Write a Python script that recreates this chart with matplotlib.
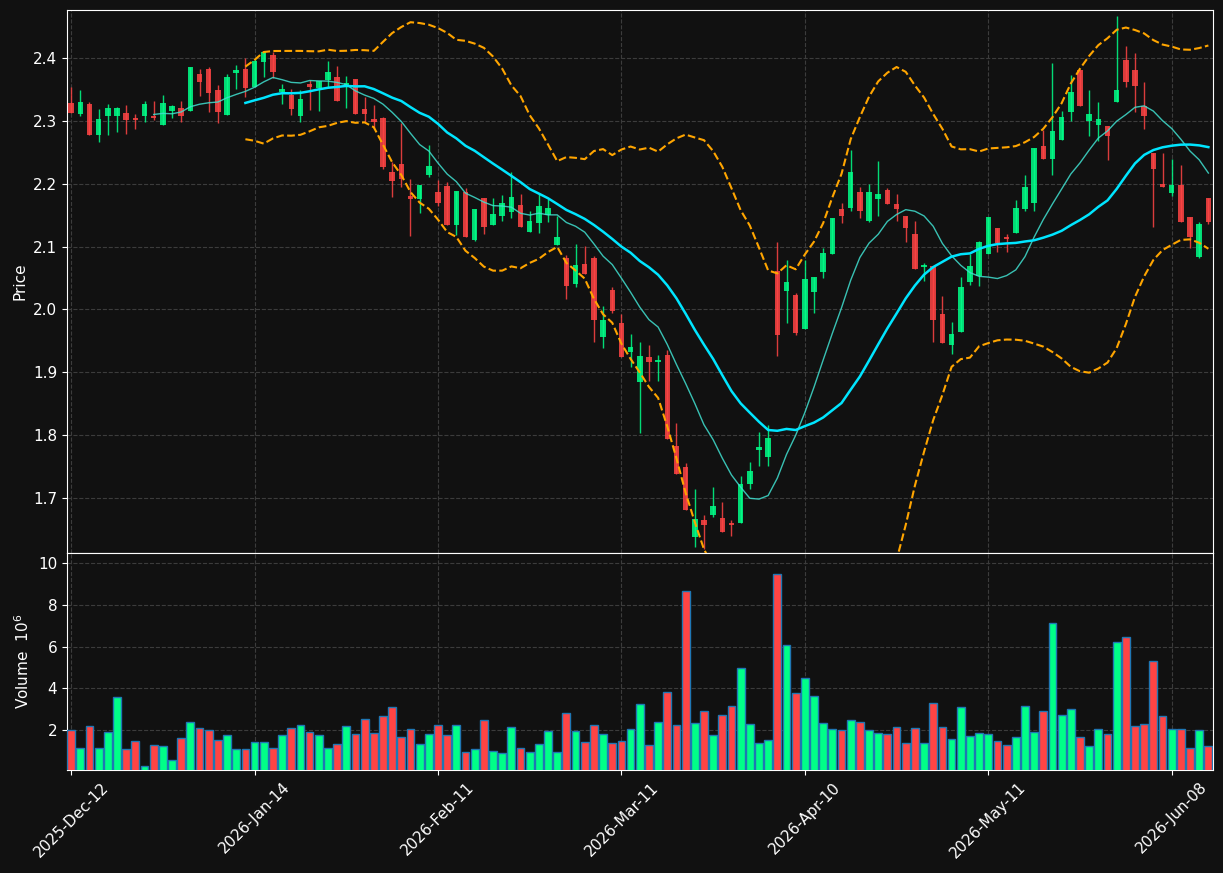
import numpy as np
import pandas as pd
import matplotlib
matplotlib.use('Agg')
import matplotlib.pyplot as plt

# ---- daily bars ----
OPEN = [2.329, 2.310, 2.326, 2.277, 2.307, 2.307, 2.313, 2.305, 2.307, 2.308,
        2.294, 2.316, 2.321, 2.316, 2.375, 2.383, 2.349, 2.309, 2.376, 2.383,
        2.353, 2.394, 2.405, 2.346, 2.341, 2.308, 2.358, 2.352, 2.365, 2.370,
        2.356, 2.367, 2.318, 2.303, 2.305, 2.219, 2.232, 2.180, 2.175, 2.214,
        2.186, 2.197, 2.135, 2.187, 2.111, 2.178, 2.135, 2.149, 2.155, 2.166,
        2.123, 2.137, 2.150, 2.103, 2.082, 2.041, 2.073, 2.082, 1.956, 2.031,
        1.979, 1.932, 1.885, 1.924, 1.916, 1.928, 1.783, 1.749, 1.639, 1.665,
        1.674, 1.669, 1.660, 1.660, 1.723, 1.776, 1.766, 2.061, 2.030, 2.023,
        1.969, 2.028, 2.060, 2.089, 2.160, 2.161, 2.187, 2.140, 2.175, 2.190,
        2.168, 2.149, 2.120, 2.068, 2.069, 1.993, 1.944, 1.965, 2.043, 2.053,
        2.089, 2.130, 2.115, 2.121, 2.159, 2.169, 2.260, 2.239, 2.270, 2.314,
        2.380, 2.299, 2.294, 2.292, 2.330, 2.397, 2.381, 2.323, 2.249, 2.200,
        2.185, 2.198, 2.147, 2.084, 2.178]
HIGH = [2.353, 2.349, 2.330, 2.318, 2.327, 2.322, 2.325, 2.310, 2.332, 2.332,
        2.341, 2.325, 2.332, 2.386, 2.383, 2.385, 2.357, 2.374, 2.388, 2.399,
        2.399, 2.410, 2.409, 2.359, 2.350, 2.349, 2.364, 2.363, 2.395, 2.387,
        2.371, 2.367, 2.338, 2.325, 2.306, 2.234, 2.297, 2.208, 2.198, 2.261,
        2.206, 2.202, 2.189, 2.193, 2.160, 2.178, 2.178, 2.182, 2.218, 2.184,
        2.156, 2.183, 2.176, 2.149, 2.087, 2.104, 2.101, 2.085, 2.006, 2.035,
        1.993, 1.961, 1.948, 1.943, 1.927, 1.935, 1.820, 1.756, 1.714, 1.674,
        1.718, 1.694, 1.665, 1.736, 1.757, 1.805, 1.817, 2.107, 2.078, 2.027,
        2.079, 2.052, 2.098, 2.146, 2.170, 2.253, 2.194, 2.199, 2.236, 2.193,
        2.184, 2.149, 2.140, 2.074, 2.069, 2.022, 1.980, 2.051, 2.089, 2.109,
        2.147, 2.130, 2.120, 2.174, 2.214, 2.257, 2.285, 2.392, 2.316, 2.372,
        2.380, 2.349, 2.330, 2.292, 2.467, 2.419, 2.408, 2.361, 2.249, 2.249,
        2.239, 2.230, 2.147, 2.139, 2.178]
LOW = [2.312, 2.308, 2.278, 2.266, 2.278, 2.282, 2.279, 2.287, 2.298, 2.302,
       2.294, 2.305, 2.298, 2.316, 2.339, 2.314, 2.297, 2.309, 2.351, 2.338,
       2.353, 2.369, 2.368, 2.327, 2.309, 2.298, 2.317, 2.315, 2.354, 2.331,
       2.320, 2.310, 2.298, 2.288, 2.224, 2.179, 2.194, 2.117, 2.153, 2.210,
       2.164, 2.135, 2.118, 2.115, 2.109, 2.120, 2.135, 2.140, 2.145, 2.131,
       2.123, 2.122, 2.139, 2.103, 2.016, 2.035, 2.057, 1.948, 1.939, 1.994,
       1.925, 1.909, 1.803, 1.886, 1.886, 1.794, 1.739, 1.682, 1.623, 1.620,
       1.670, 1.647, 1.640, 1.660, 1.715, 1.752, 1.752, 1.926, 1.978, 1.960,
       1.969, 1.994, 2.050, 2.089, 2.137, 2.157, 2.145, 2.139, 2.148, 2.167,
       2.140, 2.107, 2.065, 2.045, 1.948, 1.946, 1.929, 1.965, 2.039, 2.038,
       2.089, 2.091, 2.092, 2.121, 2.156, 2.157, 2.240, 2.214, 2.269, 2.299,
       2.323, 2.275, 2.268, 2.237, 2.330, 2.354, 2.314, 2.287, 2.131, 2.194,
       2.180, 2.139, 2.098, 2.082, 2.136]
CLOSE = [2.312, 2.330, 2.278, 2.303, 2.321, 2.321, 2.302, 2.302, 2.327, 2.304,
         2.329, 2.324, 2.307, 2.386, 2.361, 2.344, 2.314, 2.370, 2.380, 2.352,
         2.395, 2.409, 2.377, 2.351, 2.318, 2.335, 2.353, 2.363, 2.377, 2.331,
         2.360, 2.310, 2.310, 2.298, 2.227, 2.205, 2.207, 2.176, 2.198, 2.228,
         2.169, 2.135, 2.189, 2.115, 2.159, 2.131, 2.151, 2.170, 2.179, 2.131,
         2.141, 2.165, 2.162, 2.115, 2.038, 2.071, 2.057, 1.984, 1.984, 1.997,
         1.925, 1.941, 1.926, 1.916, 1.920, 1.794, 1.739, 1.682, 1.667, 1.658,
         1.688, 1.647, 1.658, 1.723, 1.743, 1.781, 1.796, 1.959, 2.043, 1.963,
         2.049, 2.052, 2.090, 2.146, 2.149, 2.219, 2.157, 2.187, 2.184, 2.167,
         2.159, 2.129, 2.065, 2.071, 1.984, 1.946, 1.961, 2.036, 2.069, 2.107,
         2.147, 2.106, 2.112, 2.162, 2.194, 2.257, 2.240, 2.284, 2.306, 2.346,
         2.323, 2.310, 2.303, 2.275, 2.349, 2.362, 2.356, 2.307, 2.223, 2.194,
         2.198, 2.139, 2.115, 2.136, 2.139]
# volume in millions
VOLUME = [2.00, 1.12, 2.19, 1.12, 1.90, 3.57, 1.10, 1.48, 0.29, 1.29,
          1.24, 0.57, 1.62, 2.38, 2.10, 2.00, 1.52, 1.76, 1.10, 1.10,
          1.43, 1.43, 1.14, 1.76, 2.10, 2.24, 1.90, 1.76, 1.14, 1.33,
          2.19, 1.81, 2.52, 1.86, 2.67, 3.10, 1.67, 2.05, 1.33, 1.81,
          2.24, 1.76, 2.24, 0.95, 1.10, 2.48, 1.00, 0.90, 2.14, 1.14,
          0.95, 1.33, 1.95, 0.95, 2.81, 1.95, 1.43, 2.24, 1.81, 1.38,
          1.48, 2.05, 3.24, 1.29, 2.38, 3.81, 2.24, 8.67, 2.33, 2.90,
          1.76, 2.71, 3.14, 4.95, 2.29, 1.38, 1.52, 9.48, 6.05, 3.76,
          4.48, 3.62, 2.33, 2.05, 2.00, 2.48, 2.38, 2.00, 1.86, 1.81,
          2.14, 1.38, 2.10, 1.38, 3.29, 2.14, 1.57, 3.10, 1.71, 1.86,
          1.81, 1.48, 1.29, 1.67, 3.14, 1.90, 2.90, 7.14, 2.71, 3.00,
          1.67, 1.24, 2.05, 1.81, 6.24, 6.48, 2.19, 2.29, 5.33, 2.67,
          2.05, 2.05, 1.14, 2.00, 1.24]

TICK_POS = [0, 20, 40, 60, 80, 100, 120]
TICK_LABELS = ['2025-Dec-12', '2026-Jan-14', '2026-Feb-11', '2026-Mar-11',
               '2026-Apr-10', '2026-May-11', '2026-Jun-08']

BG = '#111111'
UP, DOWN = '#00ff88', '#ff4444'
GRID = dict(color='#3c3c3c', linestyle='--', linewidth=0.8)


def style_axis(ax):
    ax.set_facecolor(BG)
    for sp in ax.spines.values():
        sp.set_color('white')
    ax.tick_params(colors='white', labelsize=11)
    ax.grid(True, **GRID)
    ax.set_axisbelow(True)


df = pd.DataFrame({'open': OPEN, 'high': HIGH, 'low': LOW,
                   'close': CLOSE, 'volume': VOLUME})
x = np.arange(len(df))
up = (df['close'] >= df['open']).values

ma10 = df['close'].rolling(10).mean()
ma20 = df['close'].rolling(20).mean()
std20 = df['close'].rolling(20).std()
upper = ma20 + 2 * std20
lower = ma20 - 2 * std20

fig = plt.figure(figsize=(12.23, 8.73), dpi=100, facecolor=BG)
ax = fig.add_axes([0.0548, 0.3666, 0.937, 0.6219])
axv = fig.add_axes([0.0548, 0.1180, 0.937, 0.2486], sharex=ax)
style_axis(ax)
style_axis(axv)

# candles
for i in x:
    o, h, l, c = df.loc[i, ['open', 'high', 'low', 'close']]
    col = UP if up[i] else DOWN
    ax.vlines(i, l, h, color=col, linewidth=1, alpha=0.85, zorder=2)
    ax.bar(i, max(abs(c - o), 0.0008), bottom=min(o, c), width=0.6,
           color=col, alpha=0.85, linewidth=0, zorder=3)

ax.plot(x, ma10, color='#40E0D0', linewidth=1, alpha=0.85, zorder=4)
ax.plot(x, ma20, color='#00E5FF', linewidth=1.8, zorder=4)
ax.plot(x, upper, color='#FFA500', linestyle='--', linewidth=1.5, zorder=4)
ax.plot(x, lower, color='#FFA500', linestyle='--', linewidth=1.5, zorder=4)

ax.set_ylim(1.613, 2.476)
ax.set_ylabel('Price', color='white', fontsize=11)
plt.setp(ax.get_xticklabels(), visible=False)
ax.tick_params(axis='x', length=0)

# volume
axv.bar(x, df['volume'], width=0.85, color=[UP if u else DOWN for u in up],
        edgecolor='#1f77b4', linewidth=1, zorder=3)
axv.set_ylim(0.09, 10.48)
axv.set_yticks([2, 4, 6, 8, 10])
axv.set_ylabel('Volume  $10^{6}$', color='white', fontsize=11)

axv.set_xlim(-0.45, len(df) - 0.5)
axv.set_xticks(TICK_POS)
axv.set_xticklabels(TICK_LABELS, rotation=45)

fig.savefig('out.png', dpi=100, facecolor=BG)
